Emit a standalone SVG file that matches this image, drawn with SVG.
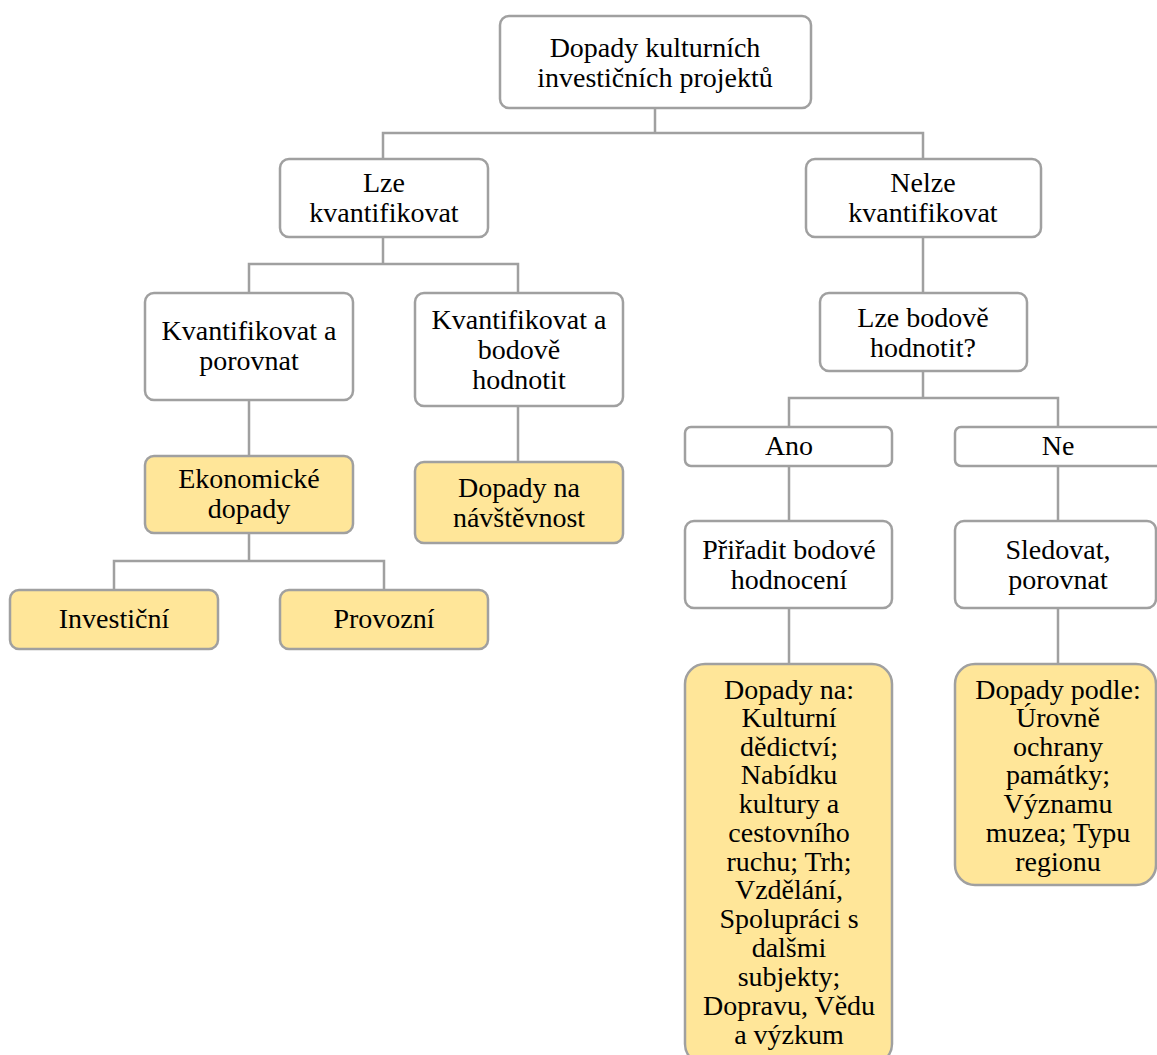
<svg xmlns="http://www.w3.org/2000/svg" width="1157" height="1055" viewBox="0 0 1157 1055">
<style>
.b{fill:#fff;stroke:#a0a0a0;stroke-width:2.5}
.y{fill:#ffe699;stroke:#a0a0a0;stroke-width:2.5}
.c{fill:none;stroke:#a0a0a0;stroke-width:2.5}
text{font-family:"Liberation Serif","Times New Roman",serif;font-size:28px;fill:#000;text-anchor:middle}
</style>
<rect width="1157" height="1055" fill="#fff"/>
<g id="connectors">
<path class="c" d="M655 108V133M383 159V133H923V159"/>
<path class="c" d="M383 237V264M249 293V264H518V293"/>
<path class="c" d="M249 400V456M518 406V462"/>
<path class="c" d="M249 533V561M114 590V561H384V590"/>
<path class="c" d="M923 237V293M923 371V398M789 427V398H1058V427"/>
<path class="c" d="M789 466V521M1058 466V521M789 608V664M1058 608V664"/>
</g>
<g id="root"><rect class="b" x="500" y="16" width="311" height="92" rx="9"/><text x="655" y="57">Dopady kulturních</text><text x="655" y="87">investičních projektů</text></g>
<g id="lze"><rect class="b" x="280" y="159" width="208" height="78" rx="9"/><text x="384" y="192">Lze</text><text x="384" y="222">kvantifikovat</text></g>
<g id="nelze"><rect class="b" x="806" y="159" width="235" height="78" rx="9"/><text x="923" y="192">Nelze</text><text x="923" y="222">kvantifikovat</text></g>
<g id="porovnat"><rect class="b" x="145" y="293" width="208" height="107" rx="9"/><text x="249" y="340">Kvantifikovat a</text><text x="249" y="370">porovnat</text></g>
<g id="bodove"><rect class="b" x="415" y="293" width="208" height="113" rx="9"/><text x="519" y="329">Kvantifikovat a</text><text x="519" y="359">bodově</text><text x="519" y="389">hodnotit</text></g>
<g id="ekonomicke"><rect class="y" x="145" y="456" width="208" height="77" rx="9"/><text x="249" y="488">Ekonomické</text><text x="249" y="518">dopady</text></g>
<g id="navstevnost"><rect class="y" x="415" y="462" width="208" height="81" rx="9"/><text x="519" y="497">Dopady na</text><text x="519" y="527">návštěvnost</text></g>
<g id="investicni"><rect class="y" x="10" y="590" width="208" height="59" rx="9"/><text x="114" y="628">Investiční</text></g>
<g id="provozni"><rect class="y" x="280" y="590" width="208" height="59" rx="9"/><text x="384" y="628">Provozní</text></g>
<g id="lzebodove"><rect class="b" x="820" y="293" width="207" height="78" rx="9"/><text x="923" y="327">Lze bodově</text><text x="923" y="357">hodnotit?</text></g>
<g id="ano"><rect class="b" x="685" y="427" width="207" height="39" rx="6"/><text x="789" y="455">Ano</text></g>
<g id="ne"><rect class="b" x="955" y="427" width="210" height="39" rx="6"/><text x="1058" y="455">Ne</text></g>
<g id="priradit"><rect class="b" x="685" y="521" width="207" height="87" rx="9"/><text x="789" y="559">Přiřadit bodové</text><text x="789" y="589">hodnocení</text></g>
<g id="sledovat"><rect class="b" x="955" y="521" width="201" height="87" rx="9"/><text x="1058" y="559">Sledovat,</text><text x="1058" y="589">porovnat</text></g>
<g id="dopadyna"><rect class="y" x="685" y="664" width="207" height="400" rx="20"/>
<text x="789" y="699">Dopady na:</text><text x="789" y="727">Kulturní</text><text x="789" y="756">dědictví;</text><text x="789" y="784">Nabídku</text><text x="789" y="813">kultury a</text><text x="789" y="842">cestovního</text><text x="789" y="871">ruchu; Trh;</text><text x="789" y="899">Vzdělání,</text><text x="789" y="928">Spolupráci s</text><text x="789" y="957">dalšmi</text><text x="789" y="986">subjekty;</text><text x="789" y="1015">Dopravu, Vědu</text><text x="789" y="1044">a výzkum</text></g>
<g id="dopadypodle"><rect class="y" x="955" y="664" width="201" height="221" rx="20"/>
<text x="1058" y="699">Dopady podle:</text><text x="1058" y="727">Úrovně</text><text x="1058" y="756">ochrany</text><text x="1058" y="784">památky;</text><text x="1058" y="813">Významu</text><text x="1058" y="842">muzea; Typu</text><text x="1058" y="871">regionu</text></g>
</svg>
